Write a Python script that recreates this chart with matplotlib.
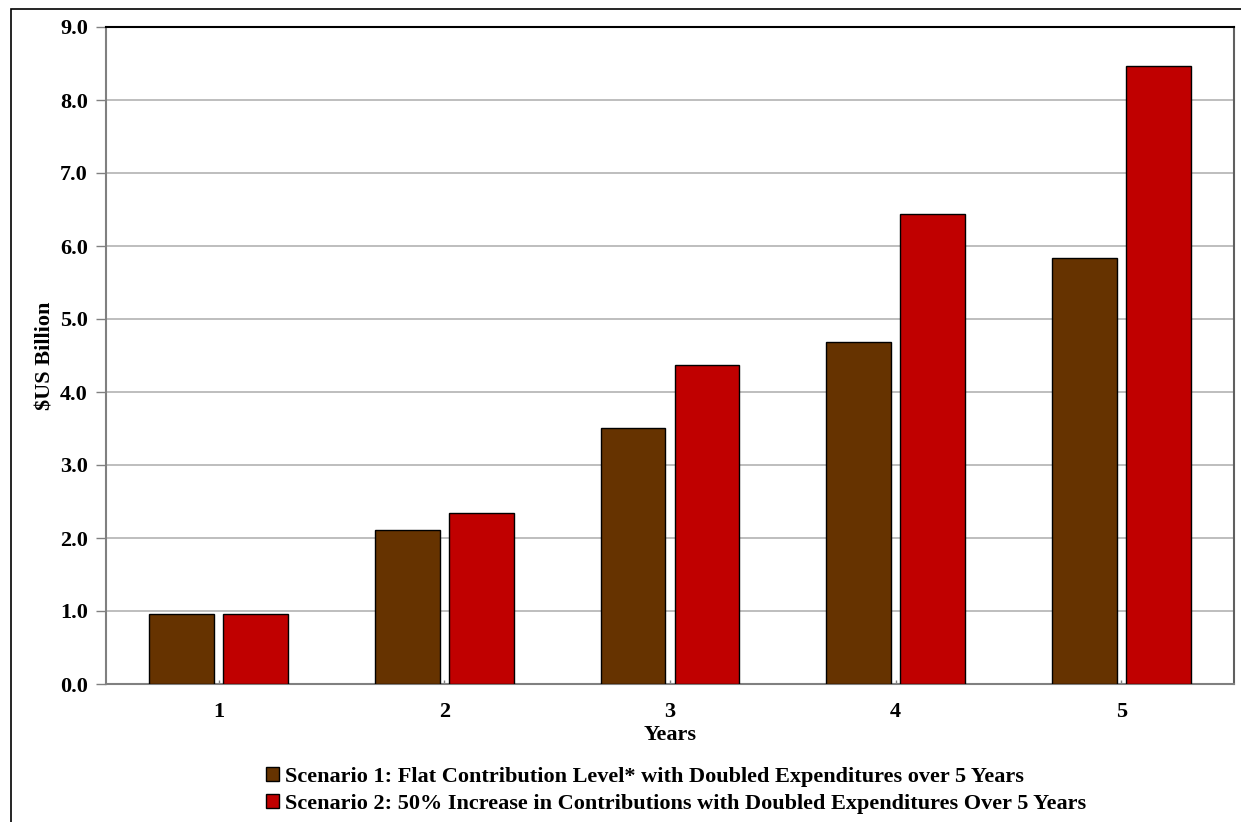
import numpy as np
import matplotlib
matplotlib.use('Agg')
import matplotlib.pyplot as plt
from matplotlib.patches import Rectangle, Patch

# projected fund balance per year, $US billion
years = ['1', '2', '3', '4', '5']
scenario1 = [0.96, 2.11, 3.51, 4.68, 5.84]
scenario2 = [0.96, 2.34, 4.37, 6.44, 8.47]
labels = ['Scenario 1: Flat Contribution Level* with Doubled Expenditures over 5 Years',
          'Scenario 2: 50% Increase in Contributions with Doubled Expenditures Over 5 Years']
yticks = [0.0, 1.0, 2.0, 3.0, 4.0, 5.0, 6.0, 7.0, 8.0, 9.0]

BROWN = '#663300'
RED = '#C00000'

plt.rcParams['font.family'] = ['Liberation Serif', 'DejaVu Serif']
plt.rcParams['font.weight'] = 'bold'

fig = plt.figure(figsize=(12.41, 8.22), dpi=100)

# outer chart border (runs off the right and bottom edges)
fig.patches.append(Rectangle((11 / 1241, -0.05), 1.2, 1 - 9 / 822 + 0.05,
                             transform=fig.transFigure, fill=False,
                             edgecolor='black', linewidth=1.2, zorder=0))

ax = fig.add_axes([106 / 1241, 1 - 684 / 822, 1128 / 1241, 657 / 822])

x = np.arange(len(years))
w = 0.288
off = 0.164
ax.bar(x - off, scenario1, w, color=BROWN, edgecolor='black', linewidth=1, zorder=3,
       label=labels[0])
ax.bar(x + off, scenario2, w, color=RED, edgecolor='black', linewidth=1, zorder=3,
       label=labels[1])

ax.set_xlim(-0.5, len(years) - 0.5)
ax.set_ylim(0, 9)
ax.set_yticks(yticks)
ax.set_yticklabels([f'{v:.1f}' for v in yticks], fontsize=16, fontweight='bold')
ax.set_xticks(x)
ax.set_xticklabels(years, fontsize=16, fontweight='bold')
ax.tick_params(axis='y', direction='out', length=7, color='#808080', width=1, pad=6)
ax.tick_params(axis='x', direction='in', length=3, color='#808080', width=1, pad=13)

ax.yaxis.grid(True, color='#b3b3b3', linewidth=1.2, zorder=0)
ax.set_axisbelow(True)

ax.spines['top'].set_color('black')
ax.spines['right'].set_color('#606060')
ax.spines['left'].set_color('#808080')
ax.spines['bottom'].set_color('#808080')
for s in ax.spines.values():
    s.set_linewidth(1.5)

ax.set_ylabel('$US Billion', fontsize=16, fontweight='bold', labelpad=3)
ax.set_xlabel('Years', fontsize=16, fontweight='bold', labelpad=2)

handles = [Patch(facecolor=BROWN, edgecolor='black', linewidth=1),
           Patch(facecolor=RED, edgecolor='black', linewidth=1)]
fig.legend(handles, labels, loc='upper left', bbox_to_anchor=(266 / 1241, 1 - 767 / 822),
           frameon=False, fontsize=16, handlelength=0.6, handleheight=0.6,
           handletextpad=0.25, labelspacing=0.32, borderpad=0, borderaxespad=0)

fig.savefig('out.png', dpi=100)
